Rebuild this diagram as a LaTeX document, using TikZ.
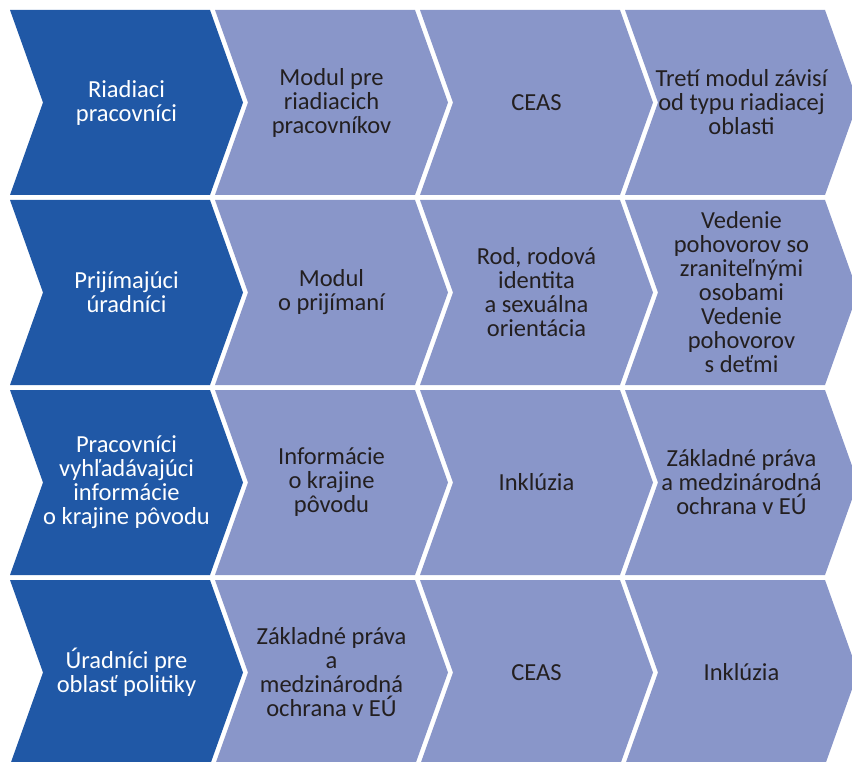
\documentclass[tikz,border=0pt]{standalone}
\usepackage{fontspec}
\setmainfont{Carlito}
\definecolor{leadblue}{RGB}{32,88,166}
\definecolor{stepblue}{RGB}{137,150,201}
\definecolor{txtgray}{RGB}{35,31,32}
\tikzset{
    chevtext/.style={align=center, text=txtgray, inner sep=0pt,
        font=\fontsize{24.5}{24}\selectfont},
    leadtext/.style={chevtext, text=white}
}
\begin{document}
\begin{tikzpicture}[x=1pt,y=-1pt]
        \useasboundingbox (0,0) rectangle (852,762);
        \clip (0,0) rectangle (852,762);
        % chevrons, 4 rows x 4 columns
        \foreach \r in {0,...,3} {
            \foreach \c in {0,...,3} {
                \pgfmathsetmacro{\xleft}{10+205*\c}
                \pgfmathsetmacro{\ytop}{10+190*\r}
                \ifnum\c=0 \def\chevcol{leadblue}\else\def\chevcol{stepblue}\fi
                \fill[\chevcol]
                    (\xleft,\ytop) -- ++(200,0) -- ++(33,92.5) -- ++(-33,92.5)
                    -- ++(-200,0) -- ++(33,-92.5) -- cycle;
            }
        }
        % row 1
        \node[leadtext] (r1c1) at (126.5,102.5) {Riadiaci\\pracovníci};
        \node[chevtext] (r1c2) at (331.5,102.5) {Modul pre\\riadiacich\\pracovníkov};
        \node[chevtext] (r1c3) at (536.5,102.5) {CEAS};
        \node[chevtext] (r1c4) at (741.5,102.5) {Tretí modul závisí\\od typu riadiacej\\oblasti};
        % row 2
        \node[leadtext] (r2c1) at (126.5,292.5) {Prijímajúci\\úradníci};
        \node[chevtext] (r2c2) at (331.5,292.5) {Modul\\o prijímaní};
        \node[chevtext] (r2c3) at (536.5,292.5) {Rod, rodová\\identita\\a sexuálna\\orientácia};
        \node[chevtext] (r2c4) at (741.5,292.5) {Vedenie\\pohovorov so\\zraniteľnými\\osobami\\Vedenie\\pohovorov\\s deťmi};
        % row 3
        \node[leadtext] (r3c1) at (126.5,482.5) {Pracovníci\\vyhľadávajúci\\informácie\\o krajine pôvodu};
        \node[chevtext] (r3c2) at (331.5,482.5) {Informácie\\o krajine\\pôvodu};
        \node[chevtext] (r3c3) at (536.5,482.5) {Inklúzia};
        \node[chevtext] (r3c4) at (741.5,482.5) {Základné práva\\a medzinárodná\\ochrana v EÚ};
        % row 4
        \node[leadtext] (r4c1) at (126.5,672.5) {Úradníci pre\\oblasť politiky};
        \node[chevtext] (r4c2) at (331.5,672.5) {Základné práva\\a\\medzinárodná\\ochrana v EÚ};
        \node[chevtext] (r4c3) at (536.5,672.5) {CEAS};
        \node[chevtext] (r4c4) at (741.5,672.5) {Inklúzia};
\end{tikzpicture}
\end{document}
